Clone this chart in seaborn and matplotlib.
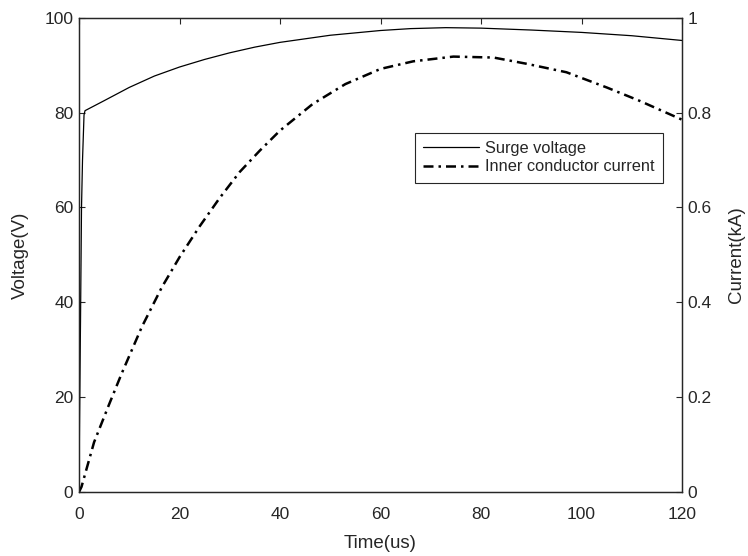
import matplotlib
matplotlib.use("Agg")
import matplotlib.pyplot as plt
import seaborn as sns
import pandas as pd
from matplotlib.lines import Line2D

# ---- data ----
time_v = [0, 0.1, 0.3, 0.5, 0.7, 1.0, 1.2, 5, 10, 15, 20, 25, 30, 35, 40,
          50, 60, 66, 73, 80, 90, 100, 110, 120]
voltage = [0, 14, 36, 60, 70, 79.5, 80.4, 82.5, 85.3, 87.7, 89.6, 91.2, 92.6,
           93.8, 94.8, 96.3, 97.3, 97.7, 97.9, 97.8, 97.4, 96.9, 96.2, 95.2]

time_i = [0, 0.5, 3, 6, 8.5, 12.5, 16.5, 20, 24, 28, 32, 36, 40, 46.5, 53,
          60, 66.5, 74.5, 82.5, 89, 97, 105, 111.5, 120]
current = [0, 0.011, 0.105, 0.185, 0.25, 0.348, 0.432, 0.495, 0.56, 0.62,
           0.675, 0.72, 0.762, 0.818, 0.86, 0.892, 0.908, 0.918, 0.916,
           0.903, 0.885, 0.853, 0.825, 0.785]

x_ticks = [0, 20, 40, 60, 80, 100, 120]
v_ticks = [0, 20, 40, 60, 80, 100]
i_ticks = [0, 0.2, 0.4, 0.6, 0.8, 1.0]
i_tick_labels = ["0", "0.2", "0.4", "0.6", "0.8", "1"]

labels = ["Surge voltage", "Inner conductor current"]

# ---- styling ----
sns.set_style("white")
plt.rcParams["font.family"] = ["Liberation Sans", "DejaVu Sans"]
text_color = "#262626"
plt.rcParams["text.color"] = text_color
plt.rcParams["axes.labelcolor"] = text_color
plt.rcParams["xtick.color"] = text_color
plt.rcParams["ytick.color"] = text_color

fig = plt.figure(figsize=(7.48, 5.56), dpi=100)
ax = fig.add_axes([79 / 748, 1 - 492 / 556, 603 / 748, (492 - 17.7) / 556])
ax2 = ax.twinx()

dfv = pd.DataFrame({"t": time_v, "v": voltage})
dfi = pd.DataFrame({"t": time_i, "i": current})

sns.lineplot(data=dfv, x="t", y="v", ax=ax, color="black", linewidth=0.9)
sns.lineplot(data=dfi, x="t", y="i", ax=ax2, color="black", linewidth=1.8)
dash = (0, (4, 2, 1, 2))
ax2.lines[0].set_linestyle(dash)

ax.set_xlim(0, 120)
ax.set_ylim(0, 100)
ax2.set_ylim(0, 1)
ax.set_xticks(x_ticks)
ax.set_yticks(v_ticks)
ax2.set_yticks(i_ticks)
ax2.set_yticklabels(i_tick_labels)

ax.set_xlabel("Time(us)", fontsize=13.5, labelpad=9)
ax.set_ylabel("Voltage(V)", fontsize=13.5, labelpad=11)
ax2.set_ylabel("Current(kA)", fontsize=13.5, labelpad=12)

ax.tick_params(axis="both", direction="in", length=4, width=0.8,
               labelsize=12.5, top=True, right=False, pad=4)
ax.tick_params(axis="x", pad=11)
ax2.tick_params(axis="y", direction="in", length=4, width=0.8,
                labelsize=12.5, pad=4)
ax2.tick_params(axis="x", top=False, bottom=False)

for a in (ax, ax2):
    for s in a.spines.values():
        s.set_color("#262626")
        s.set_linewidth(0.9)

handles = [
    Line2D([], [], color="black", linewidth=0.9),
    Line2D([], [], color="black", linewidth=1.8, linestyle=dash),
]
leg = ax2.legend(handles, labels, loc="upper left",
                 bbox_to_anchor=(0.557, 0.7576), borderaxespad=0,
                 fontsize=11.8, frameon=True, fancybox=False,
                 edgecolor="#262626", framealpha=1, handlelength=3.4,
                 handletextpad=0.37, borderpad=0.5, labelspacing=0.22)
leg.get_frame().set_linewidth(0.8)

fig.savefig("out.png", dpi=100)
